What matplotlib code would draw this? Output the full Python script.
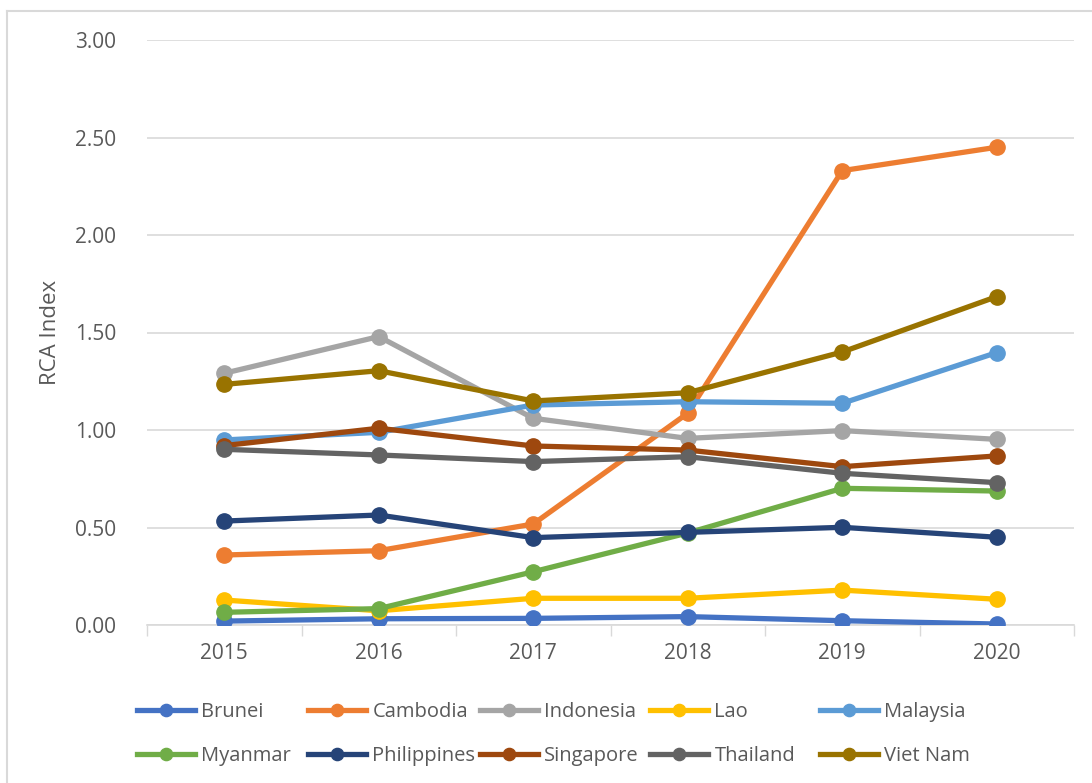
import matplotlib.pyplot as plt
from matplotlib.lines import Line2D

plt.rcParams['font.family'] = ['Open Sans', 'DejaVu Sans']

# data
years = ["2015", "2016", "2017", "2018", "2019", "2020"]
brunei = [0.020, 0.032, 0.034, 0.043, 0.022, 0.005]
cambodia = [0.359, 0.381, 0.518, 1.086, 2.330, 2.450]
indonesia = [1.291, 1.479, 1.060, 0.957, 0.997, 0.952]
lao = [0.128, 0.073, 0.137, 0.137, 0.179, 0.132]
malaysia = [0.949, 0.988, 1.128, 1.145, 1.137, 1.397]
myanmar = [0.065, 0.084, 0.273, 0.472, 0.701, 0.687]
philippines = [0.533, 0.564, 0.448, 0.475, 0.501, 0.450]
singapore = [0.920, 1.009, 0.918, 0.897, 0.812, 0.867]
thailand = [0.901, 0.872, 0.838, 0.863, 0.778, 0.730]
viet_nam = [1.234, 1.304, 1.149, 1.191, 1.400, 1.684]

series = [
    ("Brunei", brunei, "#4472C4"),
    ("Cambodia", cambodia, "#ED7D31"),
    ("Indonesia", indonesia, "#A5A5A5"),
    ("Lao", lao, "#FFC000"),
    ("Malaysia", malaysia, "#5B9BD5"),
    ("Myanmar", myanmar, "#70AD47"),
    ("Philippines", philippines, "#264478"),
    ("Singapore", singapore, "#9E480E"),
    ("Thailand", thailand, "#636363"),
    ("Viet Nam", viet_nam, "#997300"),
]

W, H = 1092, 783
fig = plt.figure(figsize=(W / 100, H / 100), dpi=100)
ax = fig.add_axes([147 / W, 1 - 625 / H, (1074 - 147) / W, (625 - 40) / H])

x = list(range(len(years)))
lines = []
for name, vals, col in series:
    ln, = ax.plot(x, vals, color=col, lw=3.8, marker='o', ms=11, label=name, zorder=3)
    lines.append(ln)

ax.set_xlim(-0.5, len(years) - 0.5)
ax.set_ylim(0, 3)
ax.set_yticks([i * 0.5 for i in range(7)])
ax.set_yticklabels([f"{i * 0.5:.2f}" for i in range(7)])
ax.set_xticks(x)
ax.set_xticklabels(years)
ax.set_xticks([i - 0.5 for i in range(len(years) + 1)], minor=True)
ax.tick_params(axis='x', which='major', length=0, pad=13, labelsize=15, labelcolor='#595959')
ax.tick_params(axis='x', which='minor', length=8, color='#d9d9d9', width=1)
ax.tick_params(axis='y', length=0, pad=22, labelsize=15, labelcolor='#595959')
ax.grid(axis='y', color='#d9d9d9', lw=1.2, zorder=0)
ax.set_axisbelow(True)
for s in ['top', 'right', 'left']:
    ax.spines[s].set_visible(False)
ax.spines['bottom'].set_color('#d9d9d9')
ax.spines['bottom'].set_linewidth(1.2)
ax.set_ylabel("RCA Index", fontsize=16, color='#595959', labelpad=10)

# outer chart frame (left and top edges visible)
fig.add_artist(Line2D([7 / W, 7 / W], [0, 1 - 11 / H], color='#d9d9d9', lw=1.5))
fig.add_artist(Line2D([7 / W, 1], [1 - 11 / H, 1 - 11 / H], color='#d9d9d9', lw=1.5))

# legend: 5 equal-width columns, 2 rows, filled row by row
col_x = [142, 313, 485, 655, 825]
for c in range(5):
    hs = [lines[c], lines[c + 5]]
    fig.legend(hs, [h.get_label() for h in hs], loc='center left',
               bbox_to_anchor=(col_x[c] / W - 0.012, 1 - 734 / H), ncol=1,
               frameon=False, fontsize=14.5, labelcolor='#595959', handlelength=2.9,
               handletextpad=0.3, markerscale=0.8, labelspacing=1.15, borderaxespad=0)

plt.savefig("out.png", dpi=100)
